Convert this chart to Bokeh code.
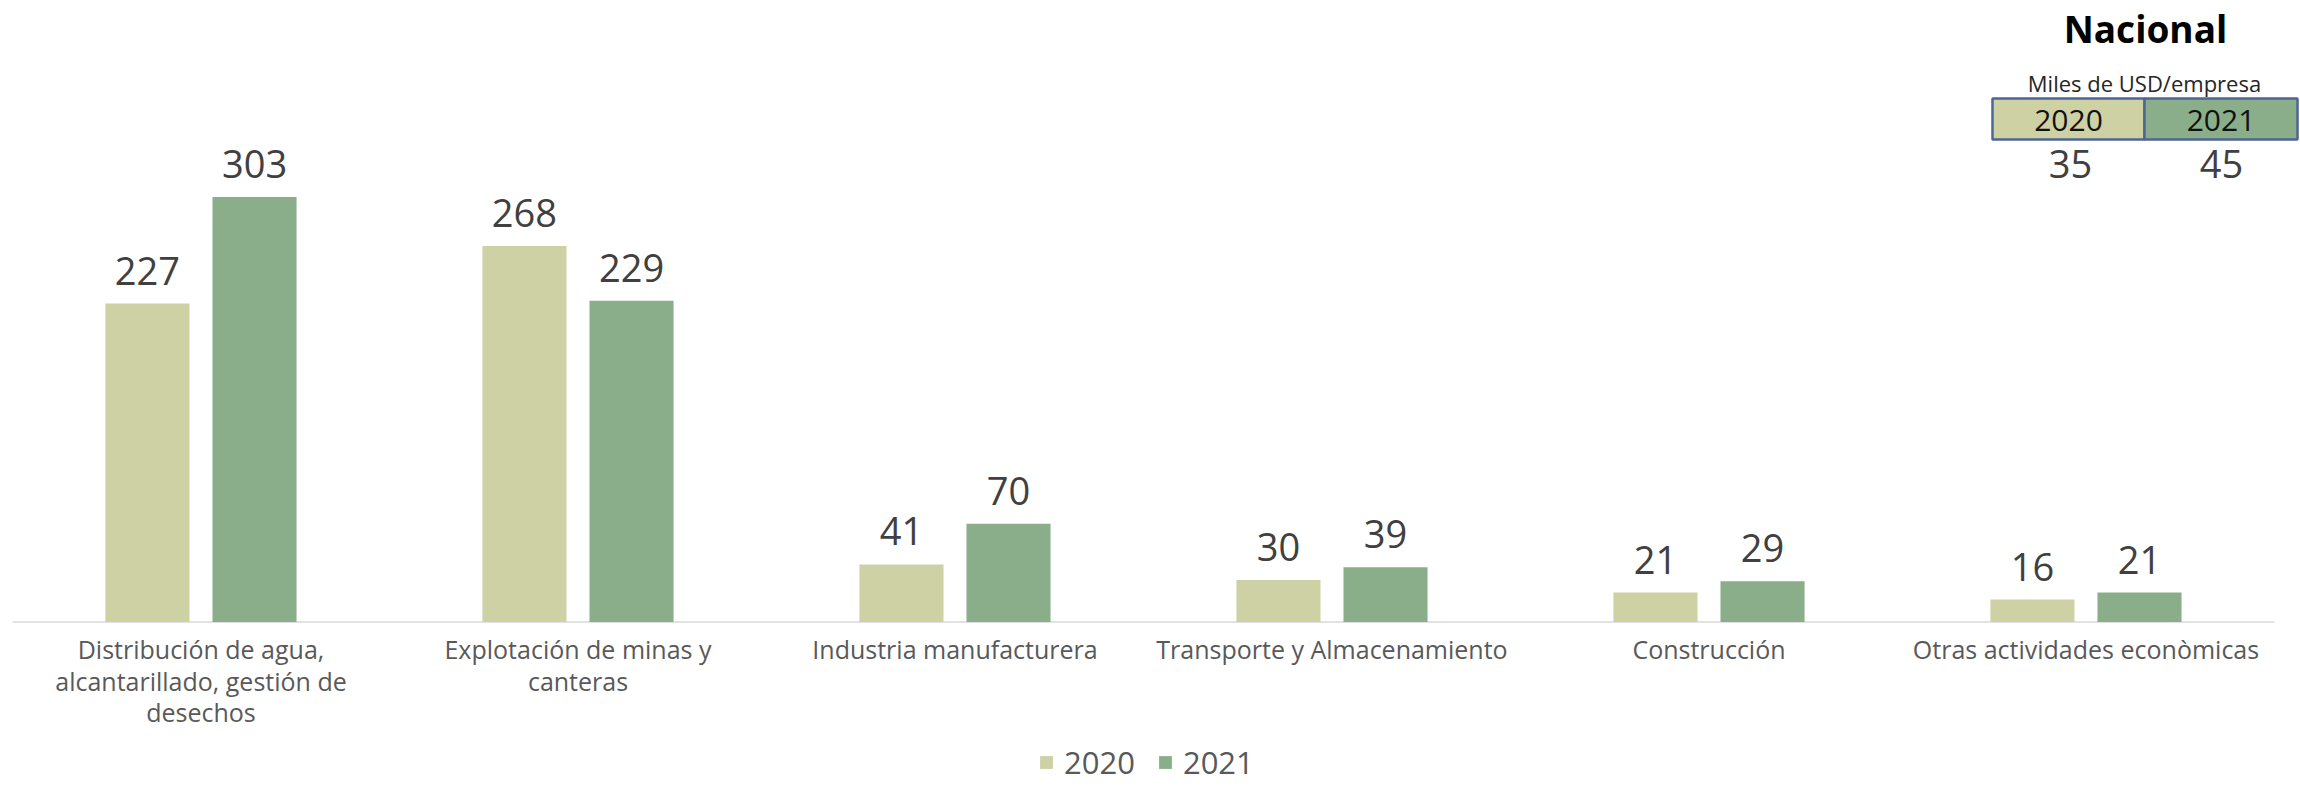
import numpy as np
from bokeh.plotting import figure
from bokeh.models import ColumnDataSource, Range1d, Legend, LegendItem
from bokeh.transform import dodge
from bokeh.core.properties import value
from bokeh.embed import file_html
from bokeh.resources import INLINE

# ---------------- data ----------------
categories = [
    "Distribución de agua,\nalcantarillado, gestión de\ndesechos",
    "Explotación de minas y\ncanteras",
    "Industria manufacturera",
    "Transporte y Almacenamiento",
    "Construcción",
    "Otras actividades econòmicas",
]
values_2020 = [227, 268, 41, 30, 21, 16]
values_2021 = [303, 229, 70, 39, 29, 21]
series_names = ["2020", "2021"]

nacional_title = "Nacional"
nacional_unit = "Miles de USD/empresa"
nacional_years = ["2020", "2021"]
nacional_values = [35, 45]

# ---------------- style ----------------
FONT = "Open Sans"
C2020 = "#CDD1A3"
C2021 = "#8AAE89"
VAL_COLOR = "#404040"
CAT_COLOR = "#595959"

W, H = 2300, 787
x_idx = np.arange(len(categories))

src = ColumnDataSource(dict(
    x=x_idx,
    label=categories,
    v2020=values_2020,
    v2021=values_2021,
    t2020=[str(v) for v in values_2020],
    t2021=[str(v) for v in values_2021],
))

p = figure(
    width=W, height=H,
    x_range=Range1d(-0.5318, 5.5690),
    y_range=Range1d(-117.96, 442.98),
    output_backend="svg", toolbar_location=None,
    min_border=0, min_border_left=0, min_border_right=0,
    min_border_top=0, min_border_bottom=0,
    outline_line_color=None,
)
p.axis.visible = False
p.grid.visible = False
p.background_fill_color = "white"
p.border_fill_color = "white"

# pixel-space ranges for the decorative "Nacional" table
p.extra_x_ranges = {"px": Range1d(0, W)}
p.extra_y_ranges = {"px": Range1d(H, 0)}

off, bw = 0.142, 0.223

# baseline (axis line)
p.segment(x0=[x_idx[0] - 0.5], x1=[x_idx[-1] + 0.5], y0=[0], y1=[0],
          line_color="#D9D9D9", line_width=1.5)

r20 = p.vbar(x=dodge("x", -off, range=p.x_range), top="v2020", bottom=0, width=bw,
             source=src, fill_color=C2020, line_color=None)
r21 = p.vbar(x=dodge("x", off, range=p.x_range), top="v2021", bottom=0, width=bw,
             source=src, fill_color=C2021, line_color=None)

common_val = dict(text_align="center", text_baseline="middle", y_offset=-33,
                  text_font=value(FONT), text_font_size="38px", text_color=VAL_COLOR)
p.text(x=dodge("x", -off, range=p.x_range), y="v2020", text="t2020", source=src, **common_val)
p.text(x=dodge("x", off, range=p.x_range), y="v2021", text="t2021", source=src, **common_val)

# category labels
p.text(x="x", y=0, text="label", source=src, text_align="center", text_baseline="top",
       y_offset=10, text_line_height=0.93, text_font=value(FONT),
       text_font_size="25px", text_color=CAT_COLOR)

# legend
legend = Legend(
    items=[LegendItem(label=series_names[0], renderers=[r20]),
           LegendItem(label=series_names[1], renderers=[r21])],
    location=(1038, 4), orientation="horizontal",
    glyph_width=16, glyph_height=16, label_standoff=10, spacing=22,
    padding=0, margin=0, border_line_color=None, background_fill_alpha=0,
    label_text_font=FONT, label_text_font_size="31px", label_text_color="#595959",
)
p.add_layout(legend)

# ---------------- "Nacional" table ----------------
cell_left = [1992, 2144]
cell_right = [2144, 2297]
cell_top, cell_bottom = 98, 139
tbl = ColumnDataSource(dict(
    left=cell_left, right=cell_right,
    cx=[(a + b) / 2 for a, b in zip(cell_left, cell_right)],
    year=nacional_years,
    val=[str(v) for v in nacional_values],
    col=[C2020, C2021],
))
p.quad(left="left", right="right", top=cell_top, bottom=cell_bottom, source=tbl,
       fill_color="col", line_color="#4F6593", line_width=2.5,
       x_range_name="px", y_range_name="px")
p.text(x="cx", y=120, text="year", source=tbl,
       text_align="center", text_baseline="middle", text_font=value(FONT),
       text_font_size="30px", text_color="#111111",
       x_range_name="px", y_range_name="px")
p.text(x=[2070, 2221], y=[163.5, 163.5], text=tbl.data["val"],
       text_align="center", text_baseline="middle", text_font=value(FONT),
       text_font_size="38px", text_color=VAL_COLOR,
       x_range_name="px", y_range_name="px")
p.text(x=[2144], y=[82], text=[nacional_unit], text_align="center",
       text_baseline="middle", text_font=value(FONT), text_font_size="22px",
       text_color="#262626", x_range_name="px", y_range_name="px")
p.text(x=[2145], y=[28], text=[nacional_title], text_align="center",
       text_baseline="middle", text_font=value(FONT), text_font_size="37px",
       text_font_style="bold", text_color="#000000",
       x_range_name="px", y_range_name="px")

open("out.html", "w").write(file_html(p, INLINE))
